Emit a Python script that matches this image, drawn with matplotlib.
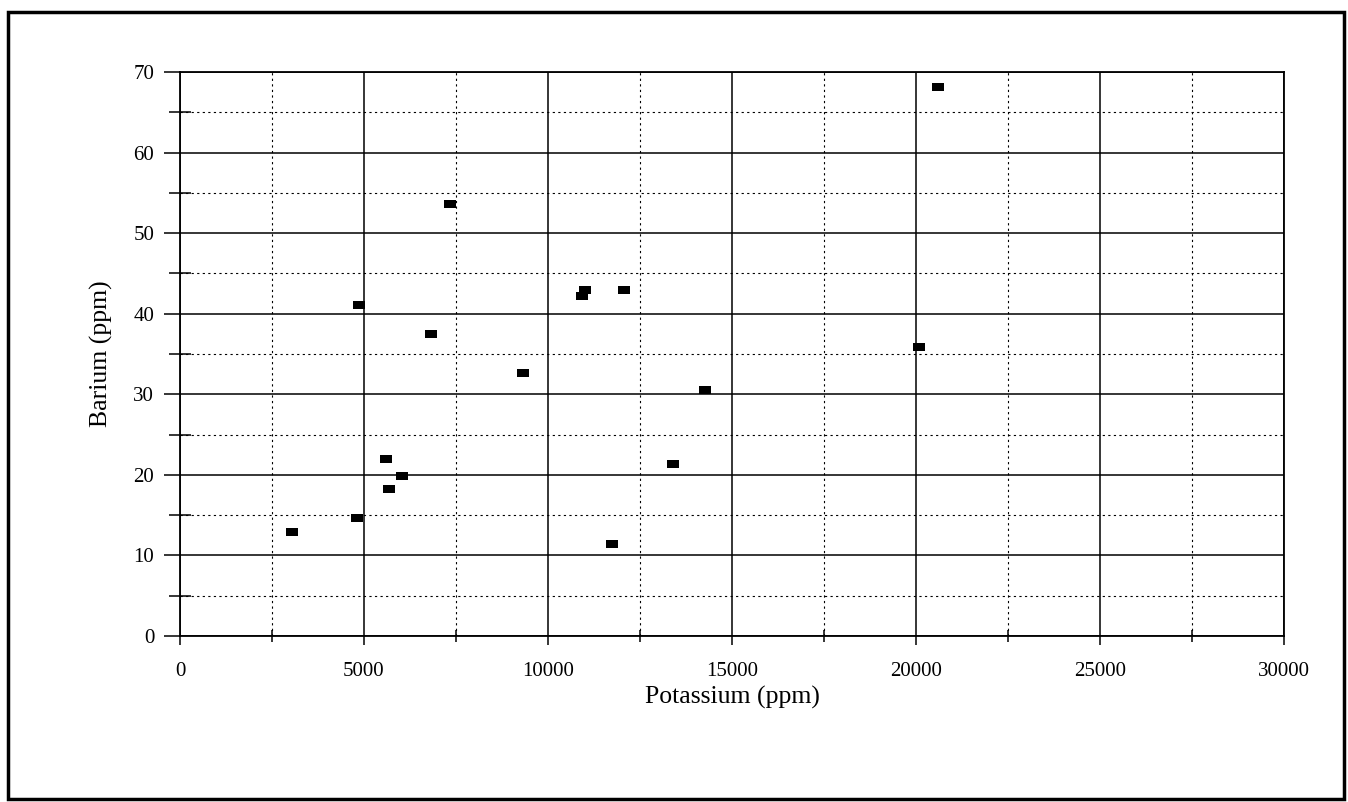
import numpy as np
import matplotlib.pyplot as plt
from matplotlib.patches import Rectangle
from matplotlib.ticker import MultipleLocator

# Potassium vs Barium
potassium = [3050, 4810, 4870, 5590, 5690, 6020, 6820, 7340, 9320,
             10920, 11000, 12060, 11740, 13390, 14260, 20090, 20610]
barium = [12.9, 14.7, 41.1, 22.0, 18.2, 19.9, 37.5, 53.6, 32.6,
          42.2, 43.0, 42.9, 11.4, 21.4, 30.5, 35.9, 68.1]

plt.rcParams['font.family'] = ['Liberation Serif', 'DejaVu Serif']

fig = plt.figure(figsize=(13.48, 8.02), dpi=100)
ax = fig.add_axes([180/1348, 1-636/802, 1104/1348, 564/802])

# rectangular markers, wider than tall
rect = [(-1.5, -1), (1.5, -1), (1.5, 1), (-1.5, 1), (-1.5, -1)]
ax.plot(potassium, barium, linestyle='none', marker=rect, markersize=9,
        color='black', markeredgewidth=0, zorder=5)

ax.set_xlim(0, 30000)
ax.set_ylim(0, 70)
ax.xaxis.set_major_locator(MultipleLocator(5000))
ax.xaxis.set_minor_locator(MultipleLocator(2500))
ax.yaxis.set_major_locator(MultipleLocator(10))
ax.yaxis.set_minor_locator(MultipleLocator(5))

ax.grid(which='major', color='black', linewidth=1.1, linestyle='-')
ax.grid(which='minor', color='black', linewidth=0.8, linestyle=(0, (2, 3)))
ax.set_axisbelow(True)

for s in ax.spines.values():
    s.set_linewidth(1.3)

ax.tick_params(axis='x', which='major', direction='out', length=6.5, width=1.1,
               pad=12, labelsize=15)
ax.tick_params(axis='x', which='minor', direction='inout', length=8, width=1.1)
ax.tick_params(axis='y', which='major', direction='out', length=11.5, width=1.1,
               pad=7, labelsize=15)
ax.tick_params(axis='y', which='minor', direction='inout', length=16.5, width=1.1)

ax.set_xlabel('Potassium (ppm)', fontsize=18.5, labelpad=4)
ax.set_ylabel('Barium (ppm)', fontsize=18.5, labelpad=15)

# frame around the whole figure
fig.patches.append(Rectangle((8/1348, 3/802), 1336/1348, 787/802,
                             transform=fig.transFigure, fill=False,
                             edgecolor='black', linewidth=2.5))

plt.savefig('out.png', dpi=100)
